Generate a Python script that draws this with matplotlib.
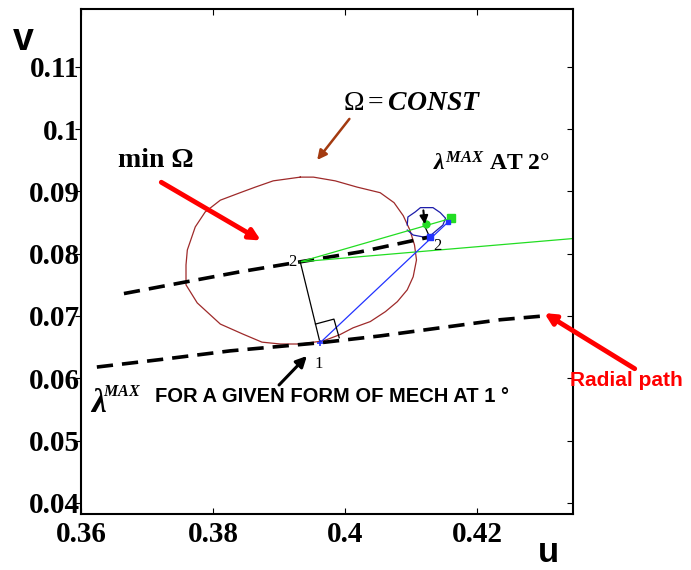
import numpy as np
import matplotlib
matplotlib.use("Agg")
import matplotlib.pyplot as plt
import matplotlib.lines as mlines

plt.rcParams['mathtext.fontset'] = 'custom'
plt.rcParams['mathtext.rm'] = 'Liberation Serif'
plt.rcParams['mathtext.it'] = 'Liberation Serif:italic:bold'
plt.rcParams['mathtext.bf'] = 'Liberation Serif:bold'

# lambda max path at 1 deg (lower dashed) and at 2 deg (upper dashed)
path1_u = [0.3624, 0.3720, 0.3826, 0.3962, 0.4053, 0.4144, 0.4235, 0.4300]
path1_v = [0.0618, 0.0630, 0.0644, 0.0657, 0.0668, 0.0681, 0.0694, 0.0700]
path2_u = [0.3665, 0.3750, 0.3841, 0.3932, 0.4023, 0.4129]
path2_v = [0.0736, 0.0753, 0.0771, 0.0787, 0.0803, 0.0827]

# Omega = const contour
omega_u = [0.3932, 0.3952, 0.3985, 0.4018, 0.4053, 0.4074, 0.4088, 0.4098, 0.4105,
           0.4108, 0.4103, 0.4094, 0.4079, 0.4061, 0.4038, 0.4012, 0.3992, 0.3967,
           0.3932, 0.3902, 0.3874, 0.3845, 0.3811, 0.3776, 0.3759, 0.3759, 0.3761,
           0.3773, 0.3788, 0.3811, 0.3841, 0.3864, 0.3891, 0.3932]
omega_v = [0.0923, 0.0923, 0.0917, 0.0907, 0.0898, 0.0882, 0.0861, 0.0838, 0.0814,
           0.0790, 0.0763, 0.0742, 0.0723, 0.0707, 0.0691, 0.0681, 0.0670, 0.0660,
           0.0655, 0.0655, 0.0658, 0.0671, 0.0687, 0.0721, 0.0750, 0.0782, 0.0806,
           0.0843, 0.0867, 0.0886, 0.0898, 0.0907, 0.0917, 0.0923]

# small blue contour at 2 deg
cloud_u = [0.4094, 0.4095, 0.4106, 0.4114, 0.4133, 0.4144, 0.4152, 0.4148, 0.4139,
           0.4129, 0.4118, 0.4103, 0.4094]
cloud_v = [0.0846, 0.0859, 0.0867, 0.0874, 0.0874, 0.0866, 0.0857, 0.0846, 0.0838,
           0.0829, 0.0827, 0.0830, 0.0838]

pt1 = (0.3962, 0.0657)
pt2 = (0.3932, 0.0787)
pt2b = (0.4129, 0.0827)
green_dot = (0.4123, 0.0848)
green_sq = (0.4161, 0.0857)
green_far = (0.4352, 0.0825)
blue_end = (0.4156, 0.0851)
box_u = [0.3955, 0.3983, 0.3991]
box_v = [0.0687, 0.0695, 0.0665]

xticks = [0.36, 0.38, 0.40, 0.42]
xlabels = ['0.36', '0.38', '0.4', '0.42']
yticks = [0.04, 0.05, 0.06, 0.07, 0.08, 0.09, 0.10, 0.11]
ylabels = ['0.04', '0.05', '0.06', '0.07', '0.08', '0.09', '0.1', '0.11']

fig = plt.figure(figsize=(6.91, 5.70), dpi=100)
ax = fig.add_axes([81/691, 1-514/570, 492/691, 505/570])

ax.plot(omega_u, omega_v, color='#9e2a2a', lw=0.9)
ax.plot(cloud_u, cloud_v, color='#1c1caa', lw=0.9)
ax.plot(path1_u, path1_v, color='black', lw=2.6, ls=(0, (4.5, 2.5)))
ax.plot(path2_u, path2_v, color='black', lw=2.6, ls=(0, (4.5, 2.5)))

ax.plot([pt2[0], green_sq[0]], [pt2[1], green_sq[1]], color='#22dd22', lw=0.9)
ax.plot([pt2[0], green_far[0]], [pt2[1], green_far[1]], color='#22dd22', lw=0.9)
ax.plot([pt1[0], blue_end[0]], [pt1[1], blue_end[1]], color='#2233ff', lw=0.9)
ax.plot([pt2[0], pt1[0]], [pt2[1], pt1[1]], color='black', lw=0.9)
ax.plot(box_u, box_v, color='black', lw=0.9)
ax.plot([0.4121, 0.4127], [0.0843, 0.0829], color='black', lw=0.9)

ax.plot(*green_dot, 'o', color='#22dd22', ms=5)
ax.plot(*green_sq, 's', color='#22dd22', ms=6)
ax.plot(*blue_end, 's', color='#2233ff', ms=3)
ax.plot(*pt2b, 's', color='#2233ff', ms=4)
ax.plot(*pt1, '+', color='#2233ff', ms=5, mew=1.2)

ax.annotate('', xy=(0.4121, 0.0843), xytext=(0.4118, 0.0874),
            arrowprops=dict(arrowstyle='-|>', color='black', lw=1.5, mutation_scale=12))

ax.set_xlim(0.36, 0.4345)
ax.set_ylim(0.0382, 0.1193)
ax.set_xticks(xticks)
ax.set_xticklabels(xlabels)
ax.set_yticks(yticks)
ax.set_yticklabels(ylabels)
for lab in ax.get_xticklabels() + ax.get_yticklabels():
    lab.set_fontfamily('Liberation Serif')
    lab.set_fontweight('bold')
    lab.set_fontsize(21)
ax.tick_params(axis='both', direction='in', length=4, width=0.8, top=True, right=True)
ax.tick_params(axis='x', pad=5)
ax.tick_params(axis='y', pad=1)
for t in ax.yaxis.get_major_ticks():
    t.tick1line.set_marker(mlines.TICKLEFT)
for s in ax.spines.values():
    s.set_linewidth(1.5)

# point labels
ax.text(0.3914, 0.0780, '2', fontfamily='Liberation Serif', fontsize=12)
ax.text(0.3953, 0.0617, '1', fontfamily='Liberation Serif', fontsize=12)
ax.text(0.4133, 0.0806, '2', fontfamily='Liberation Serif', fontsize=12)

# annotations
ax.text(0.3997, 0.1031, r'$\Omega = CONST$', fontsize=20)
ax.annotate('', xy=(0.3955, 0.0947), xytext=(0.4009, 0.1020),
            arrowprops=dict(arrowstyle='-|>', color='#a33a10', lw=1.8, mutation_scale=14))

ax.text(0.3656, 0.0939, 'min Ω', fontfamily='Liberation Serif', fontweight='bold', fontsize=20)
ax.annotate('', xy=(0.3876, 0.0819), xytext=(0.3718, 0.0917),
            arrowprops=dict(arrowstyle='-|>', color='red', lw=3.5, mutation_scale=16))

ax.text(0.4133, 0.0933, r'$\lambda^{MAX}$ AT 2°', fontfamily='Liberation Serif',
        fontweight='bold', fontsize=17)

ax.text(0.3614, 0.0546, r'$\lambda$', fontsize=24, clip_on=False)
ax.text(0.3634, 0.0572, r'$MAX$', fontsize=11.5, clip_on=False)
ax.text(0.3712, 0.0562, 'FOR A GIVEN FORM OF MECH AT 1 °', fontfamily='Liberation Sans',
        fontweight='bold', fontsize=14.5)
ax.annotate('', xy=(0.3945, 0.0639), xytext=(0.3897, 0.0586),
            arrowprops=dict(arrowstyle='-|>', color='black', lw=2.2, mutation_scale=16))

ax.text(0.4341, 0.0588, 'Radial path', fontfamily='Liberation Sans', fontweight='bold',
        fontsize=15, color='red', clip_on=False)
ax.annotate('', xy=(0.4298, 0.0707), xytext=(0.4442, 0.0613), annotation_clip=False,
            arrowprops=dict(arrowstyle='-|>', color='red', lw=3.5, mutation_scale=16))

fig.text(13/691, 1-50/570, 'v', fontfamily='Liberation Sans', fontweight='bold', fontsize=27)
fig.text(538/691, 1-562/570, 'u', fontfamily='Liberation Sans', fontweight='bold', fontsize=25)

fig.savefig('out.png', dpi=100)
